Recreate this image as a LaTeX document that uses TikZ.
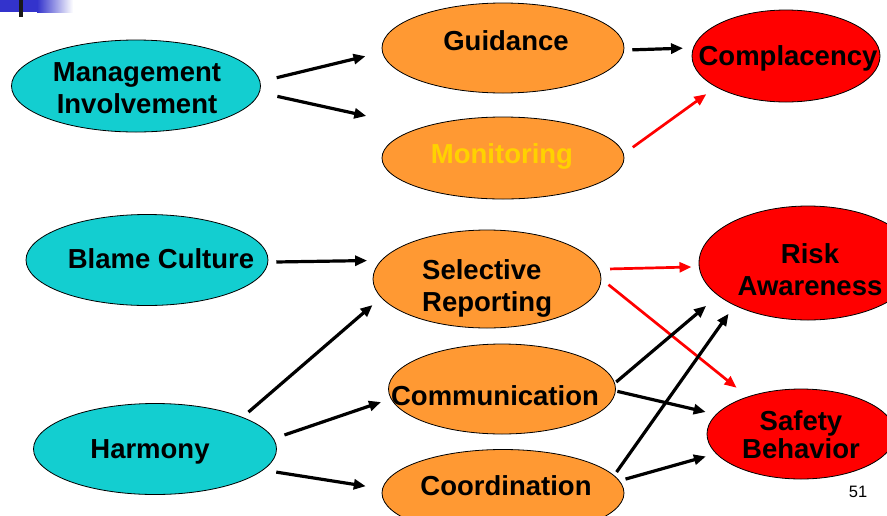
\documentclass[tikz,border=0pt]{standalone}
\usepackage{fontspec}
\setmainfont{Liberation Sans}
\usetikzlibrary{arrows.meta,shapes.geometric}

\definecolor{drivercyan}{RGB}{19,206,208}
\definecolor{mediatororange}{RGB}{255,153,51}
\definecolor{outcomered}{RGB}{255,0,0}
\definecolor{monitoryellow}{RGB}{255,210,0}
\definecolor{slideblue}{RGB}{51,51,204}

\begin{document}
\begin{tikzpicture}[x=1pt,y=-1pt,
  oval/.style={ellipse, draw=black, line width=0.8pt, inner sep=0pt},
  driver/.style={oval, fill=drivercyan},
  mediator/.style={oval, fill=mediatororange},
  outcome/.style={oval, fill=outcomered},
  lbl/.style={font=\bfseries\fontsize{27.5}{32}\selectfont, inner sep=0pt, text=black},
  link/.style={line width=3.2pt, -{Triangle[length=12pt,width=10pt]}},
  redlink/.style={line width=2.7pt, draw=outcomered, -{Triangle[length=12pt,width=10pt]}}
]
\useasboundingbox (0,0) rectangle (887,515);

% slide corner mark
\fill[slideblue] (0,0) rectangle (37,12);
\shade[left color=slideblue, right color=white] (37,0) rectangle (73,12);
\fill[black!90] (19,0) rectangle (23,17);

\begin{scope}
\clip (0,0) rectangle (887,515);
% antecedents
\node[driver, minimum width=249pt, minimum height=92pt] (mi) at (136,86) {};
\node[driver, minimum width=242pt, minimum height=91pt] (bc) at (147,260) {};
\node[driver, minimum width=243pt, minimum height=91pt] (ha) at (155,449) {};
% mediators
\node[mediator, minimum width=242pt, minimum height=90pt] (gd) at (503,48) {};
\node[mediator, minimum width=242pt, minimum height=82pt] (mo) at (503,158) {};
\node[mediator, minimum width=228pt, minimum height=98pt] (sr) at (487,279) {};
\node[mediator, minimum width=227pt, minimum height=90pt] (cm) at (502,389) {};
\node[mediator, minimum width=242pt, minimum height=87pt] (co) at (503,493) {};
% outcomes
\node[outcome, minimum width=188pt, minimum height=92pt] (cp) at (786,56) {};
\node[outcome, minimum width=218pt, minimum height=114pt] (ra) at (808,263) {};
\node[outcome, minimum width=188pt, minimum height=90pt] (sb) at (801,434) {};
\end{scope}

% labels
\node[lbl, anchor=north, align=center] (mit) at (137,62) {Management\\Involvement};
\node[lbl, anchor=base] (bct) at (161,268) {Blame Culture};
\node[lbl, anchor=base] (hat) at (150,458) {Harmony};
\node[lbl, anchor=base] (gdt) at (506,50) {Guidance};
\node[lbl, anchor=base, text=monitoryellow] (mot) at (502,163) {Monitoring};
\node[lbl, anchor=north west, align=left] (srt) at (422,259) {Selective\\Reporting};
\node[lbl, anchor=base] (cmt) at (495,405) {Communication};
\node[lbl, anchor=base] (cot) at (506,495) {Coordination};
\node[lbl, anchor=base] (cpt) at (788,65) {Complacency};
\node[lbl, anchor=north, align=center] (rat) at (810,243) {Risk\\Awareness};
\node[lbl, anchor=north, align=center, font=\bfseries\fontsize{27.5}{28.5}\selectfont] (sbt) at (801,410) {Safety\\Behavior};
\node[font=\fontsize{16.5}{18}\selectfont, anchor=base, inner sep=0pt] (pg) at (858,497) {51};

% connectors
\draw[link, shorten <=16.8pt, shorten >=17.1pt] (mi.2.5) -- (gd.182.5);
\draw[link, shorten <=18.1pt, shorten >=55pt] (mi.357.2) -- (mo.160.2);
\draw[link, shorten <=8pt, shorten >=10pt] (gd.359.5) -- (cp.175.7);
\draw[redlink, shorten <=11.1pt, shorten >=12pt] (mo.2.7) -- (cp.204.3);
\draw[link, shorten <=8pt, shorten >=14pt] (bc.359.5) -- (sr.170.4);
\draw[link, shorten <=7.7pt, shorten >=11.3pt] (ha.20.45) -- (sr.190.6);
\draw[link, shorten <=11.3pt, shorten >=10.3pt] (ha.5.1) -- (cm.185.6);
\draw[link, shorten <=13.1pt, shorten >=16.6pt] (ha.349.1) -- (co.178.4);
\draw[redlink, shorten <=10.9pt, shorten >=7.4pt] (sr.5.65) -- (ra.182.6);
\draw[redlink, shorten <=9.1pt, shorten >=14.1pt] (sr.0.9) -- (sb.145.1);
\draw[link, shorten <=1.7pt, shorten >=15.7pt] (cm.3.0) -- (ra.200.3);
\draw[link, shorten <=1.6pt, shorten >=10.5pt] (cm.359.7) -- (sb.167.05);
\draw[link, shorten <=4.1pt, shorten >=10.1pt] (co.9.1) -- (ra.210.7);
\draw[link, shorten <=6.2pt, shorten >=10.4pt] (co.6.1) -- (sb.193.6);
\end{tikzpicture}
\end{document}
